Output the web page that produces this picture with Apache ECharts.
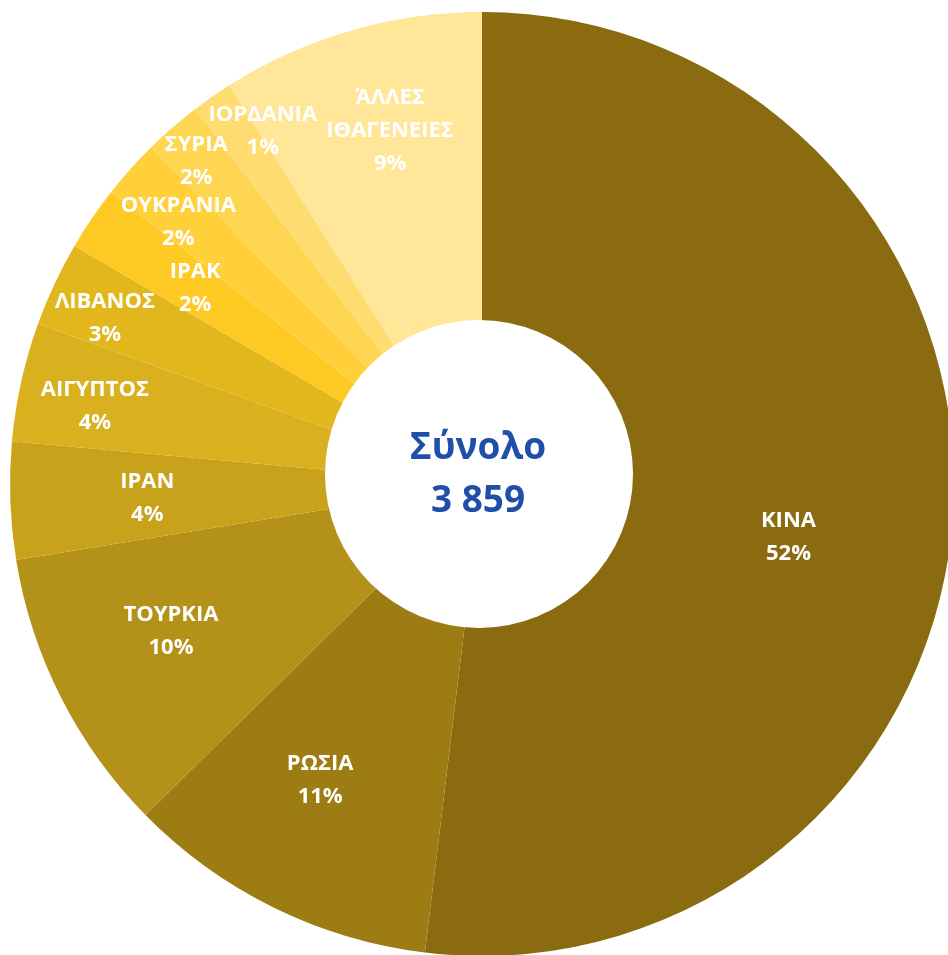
<!DOCTYPE html>
<html>
<head>
<meta charset="utf-8">
<script src="https://cdn.jsdelivr.net/npm/echarts@6.0.0/dist/echarts.min.js"></script>
<style>
  html, body { margin: 0; padding: 0; background: #fff; }
  #chart { width: 948px; height: 955px; }
</style>
</head>
<body>
<div id="chart"></div>
<script>
// nationalities, counts (total 3 859)
const countries = ['ΚΙΝΑ', 'ΡΩΣΙΑ', 'ΤΟΥΡΚΙΑ', 'ΙΡΑΝ', 'ΑΙΓΥΠΤΟΣ', 'ΛΙΒΑΝΟΣ', 'ΙΡΑΚ', 'ΟΥΚΡΑΝΙΑ', 'ΣΥΡΙΑ', 'ΙΟΡΔΑΝΙΑ', 'ΆΛΛΕΣ\nΙΘΑΓΕΝΕΙΕΣ'];
const counts = [2004, 413, 378, 155, 157, 112, 85, 78, 76, 54, 347];
const colors = ['#8B6B0F', '#9E7C14', '#B49219', '#C9A21B', '#D9B01D', '#E2B71D', '#FFC924', '#FFD03A', '#FFD651', '#FFDC70', '#FFE699'];

// where each label sits: distance from the centre and a small turn (deg) off the slice middle
const labelRadius = [311, 338, 344, 335, 395, 412, 347, 401, 431, 415, 365];
const labelTurn = [6.3, 2.4, 1.6, -0.4, -1.1, -1.3, 0, -1.1, -0.6, 3, 1.6];

const cx = 482, cy = 484;
const total = counts.reduce((a, b) => a + b, 0);

const chart = echarts.init(document.getElementById('chart'));
chart.setOption({
  backgroundColor: '#fff',
  animation: false,
  series: [{
    type: 'pie',
    center: [cx, cy],
    radius: [0, 472],
    startAngle: 90,
    clockwise: true,
    avoidLabelOverlap: false,
    itemStyle: { borderWidth: 0 },
    label: {
      show: true,
      position: 'inside',
      color: '#fff',
      fontFamily: 'Open Sans',
      fontWeight: 'bold',
      fontSize: 22,
      lineHeight: 33,
      formatter: function (p) {
        return p.name + '\n' + Math.round(p.percent) + '%';
      }
    },
    labelLayout: function (p) {
      const r = p.labelRect;
      const x0 = r.x + r.width / 2, y0 = r.y + r.height / 2;
      const a = Math.atan2(x0 - cx, -(y0 - cy)) + labelTurn[p.dataIndex] * Math.PI / 180;
      const R = labelRadius[p.dataIndex];
      return { dx: cx + R * Math.sin(a) - x0, dy: cy - R * Math.cos(a) - y0 };
    },
    data: countries.map((n, i) => ({ name: n, value: counts[i], itemStyle: { color: colors[i] } }))
  }],
  graphic: [
    {
      type: 'circle',
      shape: { cx: 479, cy: 474, r: 154 },
      style: { fill: '#fff' },
      z: 100
    },
    {
      type: 'text',
      x: 478,
      y: 475,
      z: 101,
      style: {
        text: 'Σύνολο\n' + total.toLocaleString('en-US').replace(/,/g, ' '),
        fill: '#1F4FA8',
        font: 'bold 37px "Open Sans"',
        lineHeight: 53,
        align: 'center',
        verticalAlign: 'middle'
      }
    }
  ]
});
</script>
</body>
</html>
